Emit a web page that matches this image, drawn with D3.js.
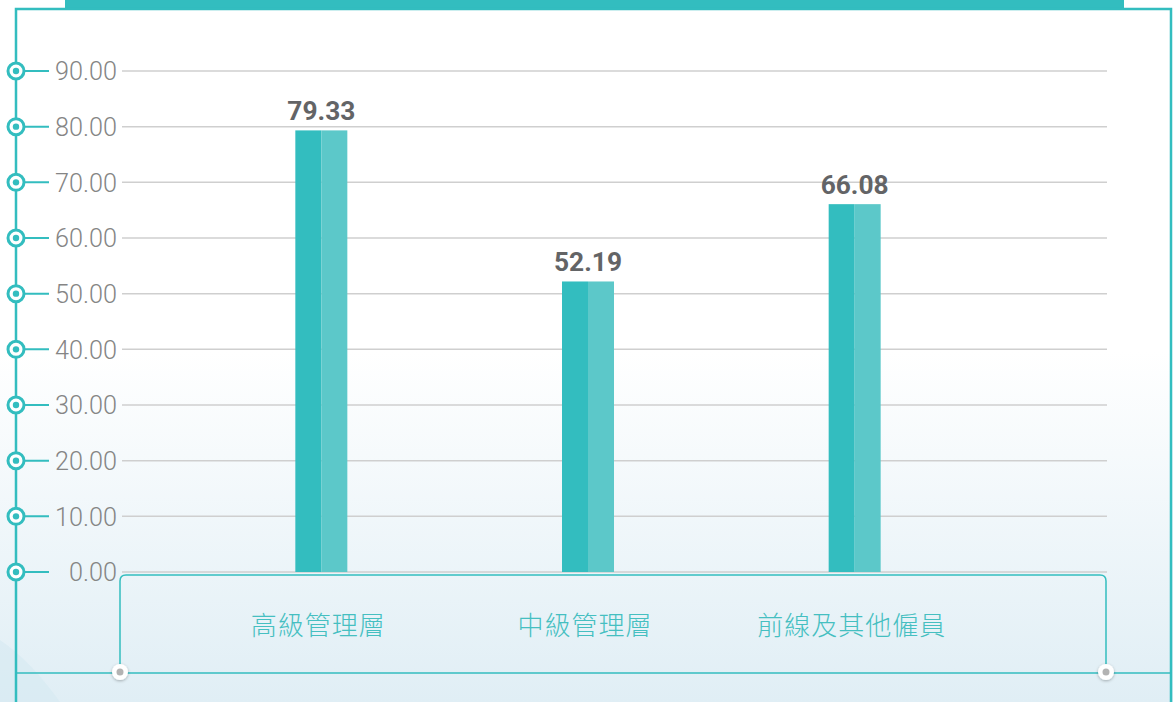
<!DOCTYPE html>
<html>
<head>
<meta charset="utf-8">
<script src="https://cdn.jsdelivr.net/npm/d3@7"></script>
<style>
  html, body { margin: 0; padding: 0; overflow: hidden; }
  body { width: 1173px; height: 702px; }
</style>
</head>
<body>
<div id="chart"></div>
<script>
// data
let categories = ["高級管理層", "中級管理層", "前線及其他僱員"];
let values = [79.33, 52.19, 66.08];
let ticks = [0, 10, 20, 30, 40, 50, 60, 70, 80, 90];

let width = 1173, height = 702;
let teal = "#33bdbf", tealLight = "#5cc8c9";

let svg = d3.select("#chart").append("svg")
    .attr("width", width)
    .attr("height", height);

// background
let defs = svg.append("defs");
let grad = defs.append("linearGradient")
    .attr("id", "bg")
    .attr("x1", 0).attr("y1", 0).attr("x2", 0).attr("y2", 1);
grad.append("stop").attr("offset", "0%").attr("stop-color", "#ffffff");
grad.append("stop").attr("offset", "50%").attr("stop-color", "#ffffff");
grad.append("stop").attr("offset", "100%").attr("stop-color", "#e0eef5");

let shadow = defs.append("filter").attr("id", "shadow")
    .attr("x", "-50%").attr("y", "-50%").attr("width", "200%").attr("height", "200%");
shadow.append("feDropShadow")
    .attr("dx", 0).attr("dy", 1).attr("stdDeviation", 1.5)
    .attr("flood-color", "#000").attr("flood-opacity", 0.3);

svg.append("rect")
    .attr("width", width).attr("height", height)
    .attr("fill", "url(#bg)");

// faint shape bottom-left
svg.append("path")
    .attr("d", "M0,640 Q30,660 60,702 L0,702 Z")
    .attr("fill", "#d6eaf2").attr("opacity", 0.6);

// frame
svg.append("rect")
    .attr("x", 65).attr("y", 0).attr("width", 1059).attr("height", 8)
    .attr("fill", teal);
svg.append("path")
    .attr("d", "M16,702 L16,9 L1171,9 L1171,702")
    .attr("fill", "none")
    .attr("stroke", teal)
    .attr("stroke-width", 2.5);

let y = d3.scaleLinear()
    .domain([0, 90])
    .range([572, 71]);

let x = d3.scaleBand()
    .domain(categories)
    .range([188, 988]);

// grid lines
svg.append("g")
    .selectAll("line")
    .data(ticks)
    .enter()
    .append("line")
    .attr("x1", 122).attr("x2", 1107)
    .attr("y1", d => y(d)).attr("y2", d => y(d))
    .attr("stroke", "#cfcfcf")
    .attr("stroke-width", 1.5);

// axis markers
let axis = svg.append("g");
axis.selectAll(".tickLine")
    .data(ticks)
    .enter()
    .append("line")
    .attr("class", "tickLine")
    .attr("x1", 16).attr("x2", 49)
    .attr("y1", d => y(d)).attr("y2", d => y(d))
    .attr("stroke", teal)
    .attr("stroke-width", 2);
axis.selectAll(".ring")
    .data(ticks)
    .enter()
    .append("circle")
    .attr("class", "ring")
    .attr("cx", 16).attr("cy", d => y(d))
    .attr("r", 8)
    .attr("fill", "#fff")
    .attr("stroke", teal)
    .attr("stroke-width", 3);
axis.selectAll(".dot")
    .data(ticks)
    .enter()
    .append("circle")
    .attr("class", "dot")
    .attr("cx", 16).attr("cy", d => y(d))
    .attr("r", 3.2)
    .attr("fill", teal);
axis.selectAll("text")
    .data(ticks)
    .enter()
    .append("text")
    .attr("x", 117)
    .attr("y", d => y(d))
    .attr("dy", "0.36em")
    .attr("text-anchor", "end")
    .attr("font-family", "Roboto, 'Noto Sans', sans-serif")
    .attr("font-weight", 300)
    .attr("font-size", 26)
    .attr("textLength", d => d === 0 ? 48 : 62)
    .attr("lengthAdjust", "spacingAndGlyphs")
    .attr("fill", "#858585")
    .text(d => d.toFixed(2));

// bottom box
svg.append("path")
    .attr("d", "M120,672 L120,581 Q120,575 126,575 L1100,575 Q1106,575 1106,581 L1106,672")
    .attr("fill", "none")
    .attr("stroke", teal)
    .attr("stroke-width", 1.5);
svg.append("line")
    .attr("x1", 16).attr("x2", 1171)
    .attr("y1", 673).attr("y2", 673)
    .attr("stroke", teal)
    .attr("stroke-width", 1.5);
[120, 1106].forEach(function (cx) {
    svg.append("circle")
        .attr("cx", cx).attr("cy", 672).attr("r", 8)
        .attr("fill", "#fff")
        .attr("filter", "url(#shadow)");
    svg.append("circle")
        .attr("cx", cx).attr("cy", 672).attr("r", 3.5)
        .attr("fill", "#b3b3b3");
});

// bars
let barW = 52;
let bars = svg.append("g")
    .selectAll("g")
    .data(values)
    .enter()
    .append("g")
    .attr("transform", (d, i) => "translate(" + (x(categories[i]) + x.bandwidth() / 2) + ",0)");
bars.append("rect")
    .attr("x", -barW / 2)
    .attr("y", d => y(d))
    .attr("width", barW / 2)
    .attr("height", d => y(0) - y(d))
    .attr("fill", teal);
bars.append("rect")
    .attr("x", 0)
    .attr("y", d => y(d))
    .attr("width", barW / 2)
    .attr("height", d => y(0) - y(d))
    .attr("fill", tealLight);
bars.append("text")
    .attr("x", 0)
    .attr("y", d => y(d) - 10)
    .attr("text-anchor", "middle")
    .attr("font-family", "Roboto, 'Noto Sans', sans-serif")
    .attr("font-weight", 700)
    .attr("font-size", 25)
    .attr("textLength", 68)
    .attr("lengthAdjust", "spacingAndGlyphs")
    .attr("fill", "#636466")
    .text(d => d.toFixed(2));

// category labels
svg.append("g")
    .selectAll("text")
    .data(categories)
    .enter()
    .append("text")
    .attr("x", d => x(d) + x.bandwidth() / 2 - 3)
    .attr("y", 626)
    .attr("dy", "0.35em")
    .attr("text-anchor", "middle")
    .attr("font-family", "'Noto Sans CJK TC', sans-serif")
    .attr("font-weight", 300)
    .attr("font-size", 26)
    .attr("letter-spacing", 1)
    .attr("fill", "#45bfc1")
    .text(d => d);
</script>
</body>
</html>
